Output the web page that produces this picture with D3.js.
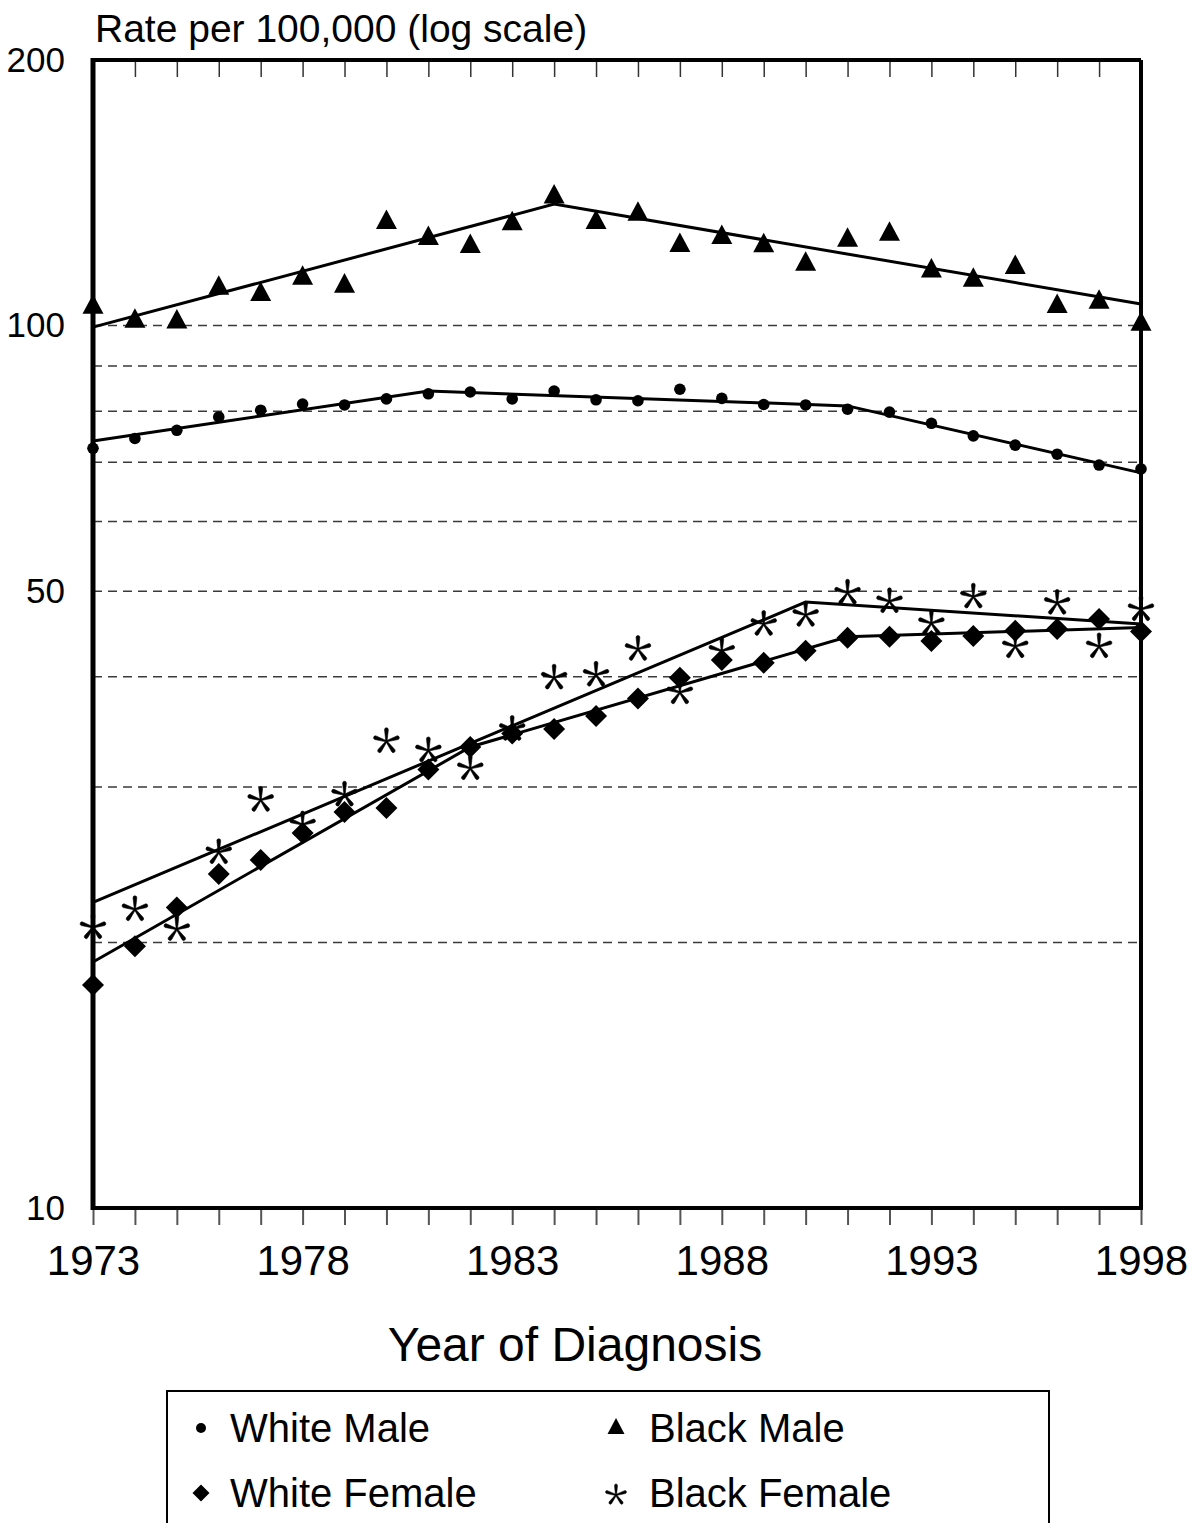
<!DOCTYPE html>
<html>
<head>
<meta charset="utf-8">
<script src="https://cdn.jsdelivr.net/npm/d3@7"></script>
<style>
  html, body { margin: 0; padding: 0; background: #fff; }
  svg { display: block; }
  text { font-family: "Liberation Sans", Arial, sans-serif; fill: #000; }
</style>
</head>
<body>
<svg id="chart" width="1189" height="1523"></svg>
<script>
// ---------- data ----------
const years = [1973,1974,1975,1976,1977,1978,1979,1980,1981,1982,1983,1984,1985,1986,1987,1988,1989,1990,1991,1992,1993,1994,1995,1996,1997,1998];
const labelYears = [1973,1978,1983,1988,1993,1998];
const yTickValues = [10,50,100,200];
const gridValues = [20,30,40,50,60,70,80,90,100];

const whiteMale   = [72.6,74.5,76.1,78.8,80.2,81.5,81.3,82.6,83.7,84.1,82.6,84.3,82.4,82.2,84.7,82.7,81.4,81.3,80.4,79.8,77.5,75.0,73.2,71.5,69.5,68.8];
const blackMale   = [105.8,102.0,101.8,111.2,109.4,114.1,111.8,132.0,126.6,124.0,131.6,141.1,132.0,134.9,124.3,126.9,124.2,118.4,126.0,128.0,116.3,113.5,117.4,106.0,107.2,101.2];
const whiteFemale = [17.9,19.8,21.9,23.9,24.8,26.6,28.1,28.4,31.4,33.3,34.5,34.9,36.1,37.8,39.9,41.8,41.5,42.8,44.3,44.4,43.9,44.5,45.1,45.3,46.5,45.0];
const blackFemale = [20.8,21.8,20.7,25.3,29.0,27.2,29.4,33.8,33.0,31.5,34.9,39.9,40.2,43.0,38.4,42.8,45.9,47.0,49.8,48.7,46.0,49.3,43.3,48.5,43.3,47.7];

// joinpoint trend lines (year, fitted rate)
const trendWhiteMaleYears   = [1973,1981,1991,1998];
const trendWhiteMaleValues  = [74.0,84.3,81.1,68.1];
const trendBlackMaleYears   = [1973,1984,1998];
const trendBlackMaleValues  = [99.6,137.3,105.8];
const trendWhiteFemaleYears = [1973,1982,1991,1998];
const trendWhiteFemaleValues= [19.0,33.3,44.4,45.5];
const trendBlackFemaleYears = [1973,1990,1998];
const trendBlackFemaleValues= [22.2,48.6,45.9];

const seriesNames = ["White Male","Black Male","White Female","Black Female"];

// ---------- layout ----------
const svg = d3.select("#chart");
const L = 93, R = 1141, T = 60, B = 1208;

const x = d3.scaleLinear().domain([1973,1998]).range([L,R]);
const y = d3.scaleLog().domain([10,200]).range([B,T]);

// gridlines
svg.append("g").selectAll("line").data(gridValues).join("line")
  .attr("x1", L).attr("x2", R)
  .attr("y1", d => y(d)).attr("y2", d => y(d))
  .attr("stroke", "#3a3a3a").attr("stroke-width", 1.5)
  .attr("stroke-dasharray", "9,6");

// top ticks (inside)
const topAxis = d3.axisTop(x).tickValues(years.slice(1, -1)).tickSize(-17).tickFormat("");
const gTop = svg.append("g").attr("transform", `translate(0,${T})`).call(topAxis);
gTop.select(".domain").remove();
gTop.selectAll("line").attr("stroke", "#333").attr("stroke-width", 1.5);

// bottom axis
const bottomAxis = d3.axisBottom(x).tickValues(years).tickSize(17).tickPadding(20)
  .tickFormat(d => labelYears.includes(d) ? String(d) : "");
const gBot = svg.append("g").attr("transform", `translate(0,${B})`).call(bottomAxis);
gBot.select(".domain").remove();
gBot.selectAll("line").attr("stroke", "#555").attr("stroke-width", 2);
gBot.selectAll("text").attr("font-size", 42).attr("font-family", "Liberation Sans, Arial, sans-serif").attr("fill", "#000");

// left axis labels
const leftAxis = d3.axisLeft(y).tickValues(yTickValues).tickSize(0).tickPadding(28).tickFormat(d3.format("d"));
const gLeft = svg.append("g").attr("transform", `translate(${L},0)`).call(leftAxis);
gLeft.select(".domain").remove();
gLeft.selectAll("text").attr("font-size", 35).attr("font-family", "Liberation Sans, Arial, sans-serif").attr("fill", "#000");

// frame
svg.append("line").attr("x1", L).attr("x2", R).attr("y1", T).attr("y2", T).attr("stroke", "#000").attr("stroke-width", 4);
svg.append("line").attr("x1", R).attr("x2", R).attr("y1", T).attr("y2", B).attr("stroke", "#000").attr("stroke-width", 4);
svg.append("line").attr("x1", L - 2).attr("x2", R + 2).attr("y1", B).attr("y2", B).attr("stroke", "#000").attr("stroke-width", 4);
svg.append("line").attr("x1", L).attr("x2", L).attr("y1", T - 2).attr("y2", B + 2).attr("stroke", "#000").attr("stroke-width", 5);

// trend lines
const line = d3.line().x(d => x(d[0])).y(d => y(d[1]));
const trends = [
  [trendWhiteMaleYears, trendWhiteMaleValues],
  [trendBlackMaleYears, trendBlackMaleValues],
  [trendWhiteFemaleYears, trendWhiteFemaleValues],
  [trendBlackFemaleYears, trendBlackFemaleValues]
];
svg.append("g").selectAll("path").data(trends).join("path")
  .attr("d", t => line(t[0].map((yr, i) => [yr, t[1][i]])))
  .attr("fill", "none").attr("stroke", "#000").attr("stroke-width", 3);

// marker shapes
function asteriskPath(r, tipW) {
  // five tapered arms, like a text asterisk
  let p = "";
  const base = 0.6;
  for (let k = 0; k < 5; k++) {
    const a = -Math.PI / 2 + k * 2 * Math.PI / 5;
    const ux = Math.cos(a), uy = Math.sin(a);
    const px = -uy, py = ux;
    const tr = r - tipW;
    const f = v => v.toFixed(2);
    p += `M${f(px*base)},${f(py*base)}` +
         `L${f(ux*tr + px*tipW)},${f(uy*tr + py*tipW)}` +
         `A${tipW},${tipW} 0 0 0 ${f(ux*tr - px*tipW)},${f(uy*tr - py*tipW)}` +
         `L${f(-px*base)},${f(-py*base)}Z`;
  }
  return p;
}
function trianglePath(w) {
  const h = w * 0.93;
  return `M0,${-h/2}L${w/2},${h/2}L${-w/2},${h/2}Z`;
}
function diamondPath(w) {
  const h = w / 2;
  return `M0,${-h}L${h},0L0,${h}L${-h},0Z`;
}

function drawMarkers(g, values, kind, sc) {
  const pts = years.map((yr, i) => [yr, values[i]]);
  const sel = g.selectAll(null).data(pts).join(kind === "dot" ? "circle" : "path");
  if (kind === "dot") {
    sel.attr("cx", d => x(d[0])).attr("cy", d => y(d[1])).attr("r", 5.8 * sc).attr("fill", "#000");
  } else {
    sel.attr("transform", d => `translate(${x(d[0])},${y(d[1])})`);
    if (kind === "tri") sel.attr("d", trianglePath(21 * sc)).attr("fill", "#000");
    if (kind === "dia") sel.attr("d", diamondPath(22 * sc)).attr("fill", "#000");
    if (kind === "ast") sel.attr("d", asteriskPath(13.5 * sc, 1.9)).attr("fill", "#000")
      .attr("stroke", "#000").attr("stroke-width", 0.6);
  }
}
const gm = svg.append("g");
drawMarkers(gm.append("g"), whiteMale, "dot", 1);
drawMarkers(gm.append("g"), blackMale, "tri", 1);
drawMarkers(gm.append("g"), whiteFemale, "dia", 1);
drawMarkers(gm.append("g"), blackFemale, "ast", 1);

// titles
svg.append("text").attr("x", 95).attr("y", 42).attr("font-size", 39).text("Rate per 100,000 (log scale)");
svg.append("text").attr("x", 575).attr("y", 1361).attr("text-anchor", "middle").attr("font-size", 48).text("Year of Diagnosis");

// legend
const lg = svg.append("g");
lg.append("rect").attr("x", 167).attr("y", 1391).attr("width", 882).attr("height", 160)
  .attr("fill", "none").attr("stroke", "#000").attr("stroke-width", 2);
const legendItems = [
  {name: seriesNames[0], kind: "dot", mx: 201, tx: 230, ty: 1442},
  {name: seriesNames[1], kind: "tri", mx: 616, tx: 649, ty: 1442},
  {name: seriesNames[2], kind: "dia", mx: 201, tx: 230, ty: 1507},
  {name: seriesNames[3], kind: "ast", mx: 616, tx: 649, ty: 1507}
];
legendItems.forEach(it => {
  const cy = it.ty - 14;
  if (it.kind === "dot") lg.append("circle").attr("cx", it.mx).attr("cy", cy).attr("r", 5).attr("fill", "#000");
  if (it.kind === "tri") lg.append("path").attr("transform", `translate(${it.mx},${cy - 2})`).attr("d", trianglePath(17)).attr("fill", "#000");
  if (it.kind === "dia") lg.append("path").attr("transform", `translate(${it.mx},${cy})`).attr("d", diamondPath(17)).attr("fill", "#000");
  if (it.kind === "ast") lg.append("path").attr("transform", `translate(${it.mx},${cy + 2})`).attr("d", asteriskPath(11, 1.5))
    .attr("fill", "#000").attr("stroke", "#000").attr("stroke-width", 0.5);
  lg.append("text").attr("x", it.tx).attr("y", it.ty).attr("font-size", 40).text(it.name);
});
</script>
</body>
</html>
